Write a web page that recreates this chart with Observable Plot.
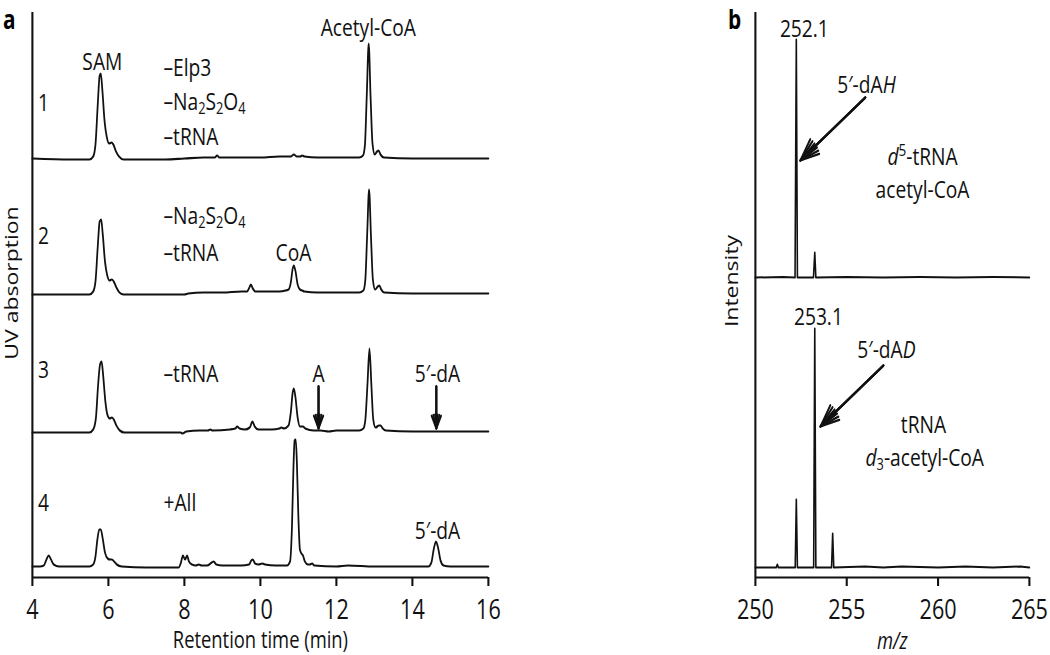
<!DOCTYPE html>
<html>
<head>
<meta charset="utf-8">
<script src="https://cdn.jsdelivr.net/npm/d3@7"></script>
<script src="https://cdn.jsdelivr.net/npm/@observablehq/plot@0.6"></script>
<style>
  html, body { margin: 0; padding: 0; overflow: hidden; background: #fff; }
  #outer { width: 1050px; height: 655px; overflow: hidden; position: relative; background: #fff; }
  #inner { position: absolute; left: 0; top: 0; width: 1312.5px; height: 655px; transform: scaleX(0.8); transform-origin: 0 0; }
  #inner svg { position: absolute; top: 0; overflow: visible; }
</style>
</head>
<body>
<div id="outer"><div id="inner"></div></div>
<script>
// ---------- DATA (panel a: HPLC traces, [retention time (min), absorption]) ----------
const xTicksA = [4, 6, 8, 10, 12, 14, 16];
const trace1 = [[4.0,1],[5.0,0],[5.5,0],[5.6,3],[5.66,15],[5.72,55],[5.77,84],[5.8,86],[5.84,70],[5.9,38],[5.96,22],[6.02,16],[6.08,17],[6.13,15],[6.2,8],[6.28,3],[6.4,0],[7.0,0],[7.5,0],[8.0,1],[8.5,2],[8.8,2],[8.86,4],[8.92,2],[9.5,2],[10.0,2],[10.5,3],[10.8,3],[10.88,5],[10.96,3],[11.05,3],[11.1,4],[11.16,3],[11.5,2],[12.0,2],[12.6,2],[12.7,4],[12.75,14],[12.8,65],[12.85,116],[12.9,62],[12.95,16],[13.01,5],[13.07,8],[13.11,9],[13.16,5],[13.25,2],[14,1],[15,1],[16,1]];
const trace2 = [[4.0,0],[5.5,0],[5.6,3],[5.66,13],[5.72,48],[5.77,73],[5.81,75],[5.85,61],[5.91,33],[5.97,19],[6.03,14],[6.09,15],[6.14,13],[6.21,7],[6.29,2],[6.4,0],[7.0,0],[7.5,0],[8.0,0],[8.1,1],[8.5,2],[9.0,2],[9.5,3],[9.65,3],[9.71,7],[9.75,10],[9.8,6],[9.87,3],[10.2,3],[10.5,3],[10.66,4],[10.74,5],[10.8,12],[10.85,26],[10.88,29],[10.92,24],[10.98,10],[11.04,5],[11.1,4],[11.16,3],[11.5,2],[12.0,2],[12.6,2],[12.71,4],[12.76,14],[12.81,60],[12.86,105],[12.91,58],[12.96,15],[13.02,5],[13.09,8],[13.13,9],[13.18,5],[13.26,2],[14,1],[15,1],[16,1]];
const trace3 = [[4.0,0],[5.5,0],[5.6,3],[5.67,14],[5.73,48],[5.78,68],[5.82,71],[5.86,58],[5.92,31],[5.98,17],[6.04,14],[6.09,15],[6.14,13],[6.21,7],[6.3,2],[6.42,0],[7.5,0],[7.9,0],[7.95,-1],[8.05,1],[8.4,2],[8.62,2],[8.68,3],[8.74,2],[9.2,3],[9.34,4],[9.39,6],[9.45,4],[9.6,3],[9.72,5],[9.79,11],[9.85,6],[9.95,3],[10.3,3],[10.5,4],[10.55,5],[10.62,4],[10.74,7],[10.8,20],[10.85,40],[10.88,44],[10.92,36],[10.98,15],[11.04,6],[11.12,6],[11.18,4],[11.4,2],[11.58,2],[11.8,1],[12.0,2],[12.6,2],[12.71,4],[12.76,12],[12.82,50],[12.87,84],[12.92,48],[12.97,13],[13.03,5],[13.12,7],[13.16,7],[13.22,4],[13.3,2],[14,1],[15,1],[16,1]];
const trace4 = [[4.0,1],[4.2,1],[4.3,2],[4.37,8],[4.43,12],[4.49,8],[4.56,3],[4.7,1],[5.0,1],[5.5,1],[5.6,3],[5.66,11],[5.71,28],[5.76,38],[5.8,38],[5.85,29],[5.91,15],[5.98,9],[6.04,8],[6.09,8],[6.15,6],[6.22,3],[6.35,1],[7.0,0],[7.5,0],[7.85,0],[7.91,5],[7.96,12],[8.0,9],[8.02,8],[8.07,12],[8.12,6],[8.2,3],[8.3,2],[8.38,3],[8.45,2],[8.6,2],[8.72,5],[8.77,6],[8.84,3],[9.0,2],[9.5,2],[9.7,3],[9.76,7],[9.8,8],[9.86,4],[9.95,3],[10.05,4],[10.12,3],[10.4,2],[10.7,2],[10.78,6],[10.83,40],[10.87,100],[10.9,127],[10.93,128],[10.96,105],[11.0,50],[11.04,18],[11.08,14],[11.12,12],[11.17,6],[11.25,3],[11.3,3],[11.36,4],[11.42,2],[12,1],[12.3,2],[13,1],[14,1],[14.42,1],[14.5,5],[14.56,18],[14.62,26],[14.68,19],[14.74,7],[14.82,2],[15,1],[16,1]];
const traceNames = ["1", "2", "3", "4"];

// ---------- DATA (panel b: mass spectra, [m/z, intensity]) ----------
const xTicksB = [250, 255, 260, 265];
const spectrumTop = [[250,0],[251.5,0.5],[252.17,0],[252.24,238],[252.3,0],[253.18,0],[253.25,25],[253.31,0],[255,0.5],[257,0],[259,0.5],[261,0],[263,0.5],[265,0]];
const spectrumBottom = [[250,0],[251.14,0],[251.2,3],[251.26,0],[252.18,0],[252.24,68],[252.3,0],[253.19,0],[253.25,239],[253.31,0],[254.17,0],[254.23,34],[254.29,0],[256,1],[257,0],[258,1],[260,0],[261.5,1],[263,0],[264.5,1],[265,0]];

// ---------- LAYOUT ----------
const FONT = "'Open Sans', 'Noto Sans', sans-serif";
const FS = 24;        // annotation text
const FS_TICK = 27;   // tick labels
const FS_TITLE = 23;  // axis titles
const offsets = [408, 273, 135, 0];   // vertical stacking of traces (px units)
const specOffsets = [290, 0];
const yDom = [-10, 555];

const traces = [trace1, trace2, trace3, trace4];
const lineMarksA = traces.map((tr, i) =>
  Plot.lineY(tr, {x: d => d[0], y: d => d[1] + offsets[i], curve: "monotone-x", stroke: "#111", strokeWidth: 2.2, strokeLinejoin: "round"})
);

function label(text, x, y, opts = {}) {
  return Plot.text([text], {x, y, text: d => d, fill: "#111", fontSize: FS, textAnchor: "middle", lineAnchor: "middle", ...opts});
}
// arrow with a (nearly) solid head: several nested chevrons
function solidArrow(data, opts, angles, headLength) {
  return angles.map(a => Plot.arrow(data, {...opts, stroke: "#111", strokeWidth: 2.3, headLength, headAngle: a}));
}

const plotA = Plot.plot({
  width: 650, height: 655,
  marginLeft: 40, marginRight: 40, marginTop: 12, marginBottom: 78,
  x: {domain: [4, 16]},
  y: {domain: yDom, axis: null},
  style: {fontFamily: FONT, fontSize: FS + "px", background: "transparent", color: "#111", overflow: "visible"},
  marks: [
    Plot.ruleX([4], {stroke: "#111", strokeWidth: 2.6}),
    Plot.ruleY([yDom[0]], {stroke: "#111", strokeWidth: 2.2}),
    Plot.axisX({ticks: xTicksA, tickSize: 9, tickPadding: 13, label: null, stroke: "#111", strokeWidth: 2.6, fill: "#111", fontSize: FS_TICK}),
    ...lineMarksA,
    // trace numbers
    ...traceNames.map((n, i) => label(n, 4.29, [464, 331, 197, 64][i])),
    // trace 1
    label("SAM", 5.84, 505),
    label("Acetyl-CoA", 12.84, 539),
    label("–Elp3", 7.45, 499, {textAnchor: "start"}),
    label("–Na2S2O4", 7.45, 465, {textAnchor: "start"}),
    label("–tRNA", 7.45, 430, {textAnchor: "start"}),
    // trace 2
    label("–Na2S2O4", 7.45, 351, {textAnchor: "start"}),
    label("–tRNA", 7.45, 314, {textAnchor: "start"}),
    label("CoA", 10.87, 314),
    // trace 3
    label("–tRNA", 7.45, 193, {textAnchor: "start"}),
    label("A", 11.53, 193),
    label("5′-dA", 14.66, 193),
    ...solidArrow([0, 1], {x1: i => [11.53, 14.63][i], x2: i => [11.53, 14.63][i], y1: 181, y2: 139}, [50, 32, 14], 11),
    // trace 4
    label("+All", 7.45, 64, {textAnchor: "start"}),
    label("5′-dA", 14.66, 36),
    // axis titles & panel letter
    Plot.text(["UV absorption"], {frameAnchor: "left", rotate: -90, dx: -25, dy: -12, fill: "#111", fontSize: FS_TITLE, textAnchor: "middle", lineAnchor: "middle"}),
    Plot.text(["Retention time (min)"], {frameAnchor: "bottom", dy: 63, fill: "#111", fontSize: FS_TITLE, textAnchor: "middle", lineAnchor: "middle"}),
    Plot.text(["a"], {frameAnchor: "top-left", dx: -29, dy: 8.5, fill: "#000", fontSize: 26, fontWeight: "bold", textAnchor: "middle", lineAnchor: "middle"})
  ]
});

const specs = [spectrumTop, spectrumBottom];
const plotB = Plot.plot({
  width: 437.5, height: 655,
  marginLeft: 68.75, marginRight: 26.25, marginTop: 12, marginBottom: 78,
  x: {domain: [250, 265]},
  y: {domain: yDom, axis: null},
  style: {fontFamily: FONT, fontSize: FS + "px", background: "transparent", color: "#111", overflow: "visible"},
  marks: [
    Plot.ruleX([250], {stroke: "#111", strokeWidth: 2.6}),
    Plot.ruleY([yDom[0]], {stroke: "#111", strokeWidth: 2.2}),
    Plot.axisX({ticks: xTicksB, tickSize: 9, tickPadding: 13, label: null, stroke: "#111", strokeWidth: 2.6, fill: "#111", fontSize: FS_TICK}),
    ...specs.map((s, i) => Plot.lineY(s, {x: d => d[0], y: d => d[1] + specOffsets[i], stroke: "#111", strokeWidth: 2, strokeLinejoin: "round"})),
    label("252.1", 252.68, 538),
    label("5′-dAH", 256.08, 482),
    label("d5-tRNA\nacetyl-CoA", 259.15, 397, {lineHeight: 1.38}),
    label("253.1", 253.45, 250),
    label("5′-dAD", 257.17, 217),
    label("tRNA", 259.2, 142),
    label("d3-acetyl-CoA", 259.27, 109),
    ...solidArrow([0, 1], {x1: i => [256.02, 257.01][i], y1: i => [470, 202][i], x2: i => [252.46, 253.56][i], y2: i => [407, 141][i]}, [44, 28, 12], 16),
    Plot.text(["Intensity"], {frameAnchor: "left", rotate: -90, dx: -29, dy: -14, fill: "#111", fontSize: FS_TITLE, textAnchor: "middle", lineAnchor: "middle"}),
    Plot.text(["m/z"], {frameAnchor: "bottom", dy: 64, fill: "#111", fontSize: FS_TITLE, fontStyle: "italic", textAnchor: "middle", lineAnchor: "middle"}),
    Plot.text(["b"], {frameAnchor: "top-left", dx: -26, dy: 8.5, fill: "#000", fontSize: 26, fontWeight: "bold", textAnchor: "middle", lineAnchor: "middle"})
  ]
});

// rich text: subscripts, superscripts and italics as real SVG tspans
const sub = t => `<tspan dy="4" font-size="16">${t}</tspan>`;
const rich = {
  "–Na2S2O4": `–Na${sub("2")}<tspan dy="-4">S</tspan>${sub("2")}<tspan dy="-4">O</tspan>${sub("4")}`,
  "d5-tRNA": `<tspan font-style="italic">d</tspan><tspan dy="-9" font-size="17">5</tspan><tspan dy="9">-tRNA</tspan>`,
  "d3-acetyl-CoA": `<tspan font-style="italic">d</tspan>${sub("3")}<tspan dy="-4">-acetyl-CoA</tspan>`,
  "5′-dAH": `5′-dA<tspan font-style="italic">H</tspan>`,
  "5′-dAD": `5′-dA<tspan font-style="italic">D</tspan>`
};
for (const svg of [plotA, plotB]) {
  svg.querySelectorAll("text, tspan").forEach(t => {
    const k = t.textContent;
    if (rich[k] && t.children.length === 0) t.innerHTML = rich[k];
  });
}

plotA.style.left = "0px";
plotB.style.left = "875px";
const inner = document.getElementById("inner");
inner.appendChild(plotA);
inner.appendChild(plotB);
</script>
</body>
</html>
